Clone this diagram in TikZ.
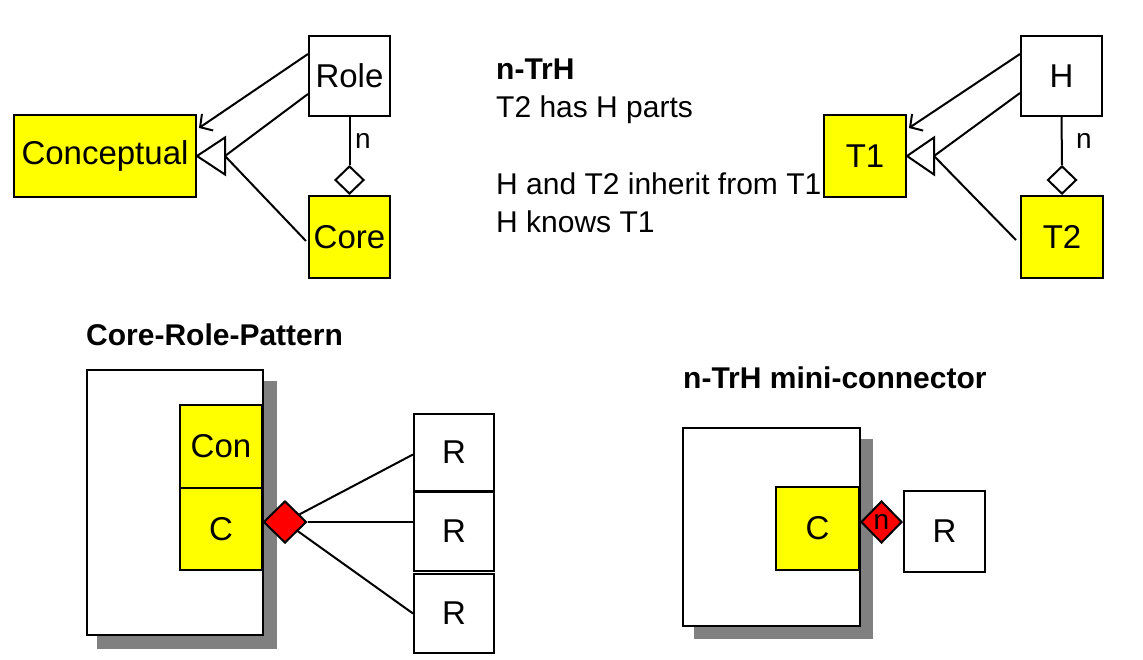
\documentclass[tikz,border=0pt]{standalone}
\usepackage{fontspec}
\setmainfont{Liberation Sans}
\usetikzlibrary{arrows.meta,shapes.geometric,calc}
\definecolor{ylw}{HTML}{FFFF00}
\definecolor{shd}{HTML}{808080}
\definecolor{rd}{HTML}{FF0000}
\begin{document}
\begin{tikzpicture}[x=1pt,y=-1pt,
  box/.style={draw,line width=2pt,inner sep=0pt,anchor=north west,font=\fontsize{33}{38}\selectfont},
  ybox/.style={box,fill=ylw},
  wbox/.style={box,fill=white},
  conn/.style={line width=2pt},
  barb/.style={conn,-{Straight Barb[length=9pt,width=20pt]}},
  odia/.style={diamond,draw,line width=2pt,fill=white,inner sep=0pt,minimum width=29pt,minimum height=28pt,anchor=south},
  rdia/.style={diamond,draw,line width=2pt,fill=rd,inner sep=0pt,minimum width=43pt,minimum height=42pt,font=\fontsize{28}{30}\selectfont},
  txt/.style={inner sep=0pt,anchor=base west,font=\fontsize{30}{38}\selectfont},
  ttl/.style={inner sep=0pt,anchor=base west,font=\fontsize{30}{38}\selectfont\bfseries},
  lbl/.style={inner sep=0pt,anchor=base,font=\fontsize{28}{30}\selectfont}
]
\useasboundingbox (0,0) rectangle (1143,659);

% ---------- top left ----------
\node[ybox,minimum width=182pt,minimum height=82pt] (concept) at (13,114) {Conceptual};
\node[wbox,minimum width=81pt,minimum height=80pt] (role) at (308,35) {Role};
\node[ybox,minimum width=81pt,minimum height=82pt] (core) at (308,195) {Core};
\node[odia] (od1) at (core.north) {};
\draw[conn] (role.south) -- (od1.north);
\node[lbl] (n1) at (363,148) {n};
\draw[barb] ($(role.north west)+(0,19)$) -- ($(concept.north east)+(2,14)$);
\coordinate (inh1) at ($(concept.east)+(28,0)$);
\draw[conn] ($(role.north west)+(0,59)$) -- (inh1);
\draw[conn] ($(core.west)+(-2,4)$) -- (inh1);
\draw[conn,fill=white,line join=miter] (concept.east) -- ($(inh1)+(0,-18.5)$) -- ($(inh1)+(0,18.5)$) -- cycle;

% ---------- middle text ----------
\node[ttl] (h1) at (496,79) {n-TrH};
\node[txt] (h2) at (496,117) {T2 has H parts};
\node[txt] (h3) at (496,194) {H and T2 inherit from T1};
\node[txt] (h4) at (496,232) {H knows T1};

% ---------- top right ----------
\node[ybox,minimum width=82pt,minimum height=82pt] (t1) at (823,114) {T1};
\node[wbox,minimum width=81pt,minimum height=80pt] (hh) at (1020,35) {H};
\node[ybox,minimum width=82pt,minimum height=82pt] (t2) at (1020,195) {T2};
\node[odia] (od2) at (t2.north) {};
\draw[conn] (hh.south) -- (od2.north);
\node[lbl] (n2) at (1084,148) {n};
\draw[barb] ($(hh.north west)+(0,19)$) -- ($(t1.north east)+(2,14)$);
\coordinate (inh2) at ($(t1.east)+(27,0)$);
\draw[conn] ($(hh.north west)+(0,58)$) -- (inh2);
\draw[conn] ($(t2.west)+(-4,3)$) -- (inh2);
\draw[conn,fill=white,line join=miter] (t1.east) -- ($(inh2)+(0,-18.5)$) -- ($(inh2)+(0,18.5)$) -- cycle;

% ---------- bottom left ----------
\node[ttl] (crp) at (86,345) {Core-Role-Pattern};
\fill[shd] (97,381) rectangle (277,649);
\node[wbox,minimum width=176pt,minimum height=265pt] (big1) at (86,369) {};
\node[ybox,minimum width=82pt,minimum height=83pt] (con) at (179,404) {Con};
\node[ybox,minimum width=82pt,minimum height=82pt] (c1) at (179,487) {C};
\node[wbox,minimum width=80pt,minimum height=77pt] (r1) at (413,413) {R};
\node[wbox,minimum width=80pt,minimum height=79pt] (r2) at (413,491) {R};
\node[wbox,minimum width=80pt,minimum height=79pt] (r3) at (413,573) {R};
\node[rdia] (dia1) at (285,522) {};
\draw[conn] (dia1) -- ($(r1.west)+(0,2)$);
\draw[conn] (dia1.east) -- (dia1.east -| r2.west);
\draw[conn] (dia1) -- (r3.west);

% ---------- bottom right ----------
\node[ttl] (mini) at (683,388) {n-TrH mini-connector};
\fill[shd] (694,439) rectangle (873,639);
\node[wbox,minimum width=177pt,minimum height=198pt] (big2) at (682,427) {};
\node[ybox,minimum width=83pt,minimum height=83pt] (c2) at (775,486) {C};
\node[wbox,minimum width=81pt,minimum height=81pt] (r4) at (903,490) {R};
\node[rdia,minimum width=41pt] (dia2) at (881.5,522) {n};
\end{tikzpicture}
\end{document}
